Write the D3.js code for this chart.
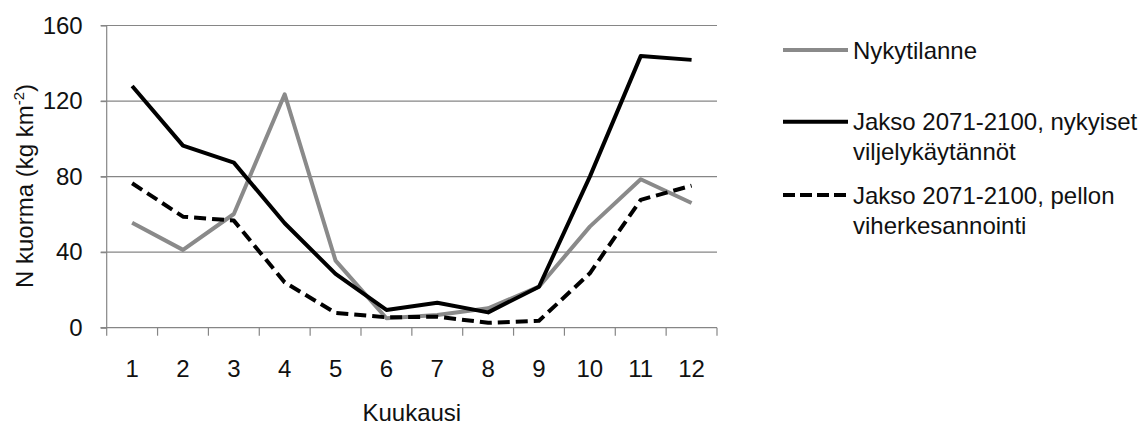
<!DOCTYPE html>
<html>
<head>
<meta charset="utf-8">
<script src="https://cdn.jsdelivr.net/npm/d3@7"></script>
<style>
  html, body { margin: 0; padding: 0; background: #fff; }
  svg { display: block; font-family: "Liberation Sans", Arial, sans-serif; }
</style>
</head>
<body>
<svg id="chart" width="1142" height="427"></svg>
<script>
const months = ["1","2","3","4","5","6","7","8","9","10","11","12"];
const nykytilanne = [55.6, 41.2, 60.2, 123.6, 35.5, 5.0, 6.7, 10.3, 21.7, 53.5, 78.6, 66.0];
const nykyiset    = [128.0, 96.4, 87.4, 55.3, 28.5, 9.4, 13.2, 8.1, 21.7, 80.0, 143.8, 141.8];
const viherkesannointi = [76.5, 58.8, 56.7, 24.0, 7.8, 5.5, 5.8, 2.6, 3.7, 28.8, 67.7, 75.2];
const yTicks = [0, 40, 80, 120, 160];
const seriesNames = [
  ["Nykytilanne"],
  ["Jakso 2071-2100, nykyiset", "viljelykäytännöt"],
  ["Jakso 2071-2100, pellon", "viherkesannointi"]
];

(function () {
const svg = d3.select("#chart");
const pLeft = 106.7, pRight = 717, pTop = 25.5, pBottom = 327.7;
const gridColor = "#868686";
const fs = 24;

const x = d3.scaleBand().domain(months).range([pLeft, pRight]).paddingInner(0).paddingOuter(0);
const y = d3.scaleLinear().domain([0, 160]).range([pBottom, pTop]);

// gridlines
svg.append("g").selectAll("line").data(yTicks.filter(d => d > 0)).join("line")
  .attr("x1", pLeft - 6).attr("x2", pRight)
  .attr("y1", d => y(d)).attr("y2", d => y(d))
  .attr("stroke", gridColor).attr("stroke-width", 1.2);

// y axis
const yAxis = d3.axisLeft(y).tickValues(yTicks).tickSize(6).tickPadding(18).tickFormat(d3.format("d"));
const gy = svg.append("g").attr("transform", `translate(${pLeft},0)`).call(yAxis);
gy.select(".domain").attr("stroke", gridColor).attr("stroke-width", 1.2).attr("d", `M-6,${y(0)}H0V${y(160)}`);
gy.selectAll(".tick line").attr("stroke", gridColor).attr("stroke-width", 1.2);
gy.selectAll(".tick text").attr("font-size", fs).attr("fill", "#111").attr("font-family", "Liberation Sans, Arial, sans-serif");

// x axis
const gx = svg.append("g").attr("transform", `translate(0,${pBottom})`);
gx.append("line").attr("x1", pLeft - 6).attr("x2", pRight).attr("y1", 0).attr("y2", 0)
  .attr("stroke", gridColor).attr("stroke-width", 1.2);
const boundaries = months.map(m => x(m)).concat([x(months[months.length - 1]) + x.bandwidth()]);
gx.selectAll("line.tk").data(boundaries).join("line").attr("class", "tk")
  .attr("x1", d => d).attr("x2", d => d).attr("y1", 0).attr("y2", 8)
  .attr("stroke", gridColor).attr("stroke-width", 1.2);
gx.selectAll("text").data(months).join("text")
  .attr("x", d => x(d) + x.bandwidth() / 2).attr("y", 49)
  .attr("text-anchor", "middle").attr("font-size", fs).attr("fill", "#111")
  .text(d => d);

// axis titles
const yt = svg.append("text")
  .attr("transform", `translate(33,186) rotate(-90)`)
  .attr("text-anchor", "middle").attr("font-size", fs).attr("fill", "#111");
yt.append("tspan").text("N kuorma (kg km");
yt.append("tspan").attr("font-size", 15).attr("dy", -9).text("-2");
yt.append("tspan").attr("dy", 9).text(")");

svg.append("text").attr("x", (pLeft + pRight) / 2).attr("y", 421)
  .attr("text-anchor", "middle").attr("font-size", fs).attr("fill", "#111").text("Kuukausi");

// lines
const line = d3.line().x((d, i) => x(months[i]) + x.bandwidth() / 2).y(d => y(d));
const styles = [
  { data: nykytilanne, color: "#8a8a8a", dash: null },
  { data: nykyiset, color: "#000", dash: null },
  { data: viherkesannointi, color: "#000", dash: "12,6" }
];
styles.forEach(s => {
  svg.append("path").datum(s.data).attr("d", line)
    .attr("fill", "none").attr("stroke", s.color).attr("stroke-width", 4)
    .attr("stroke-linejoin", "round")
    .attr("stroke-dasharray", s.dash);
});

// legend
const legY = [50, 121.7, 195];
const lg = svg.append("g");
styles.forEach((s, i) => {
  lg.append("line").attr("x1", 783).attr("x2", 848).attr("y1", legY[i]).attr("y2", legY[i])
    .attr("stroke", s.color).attr("stroke-width", 4).attr("stroke-dasharray", s.dash ? "12,5" : null);
  const t = lg.append("text").attr("x", 853).attr("y", legY[i] + 8.5).attr("font-size", fs).attr("fill", "#111");
  seriesNames[i].forEach((ln, j) => {
    t.append("tspan").attr("x", 853).attr("dy", j === 0 ? 0 : 30).text(ln);
  });
});
})();
</script>
</body>
</html>
